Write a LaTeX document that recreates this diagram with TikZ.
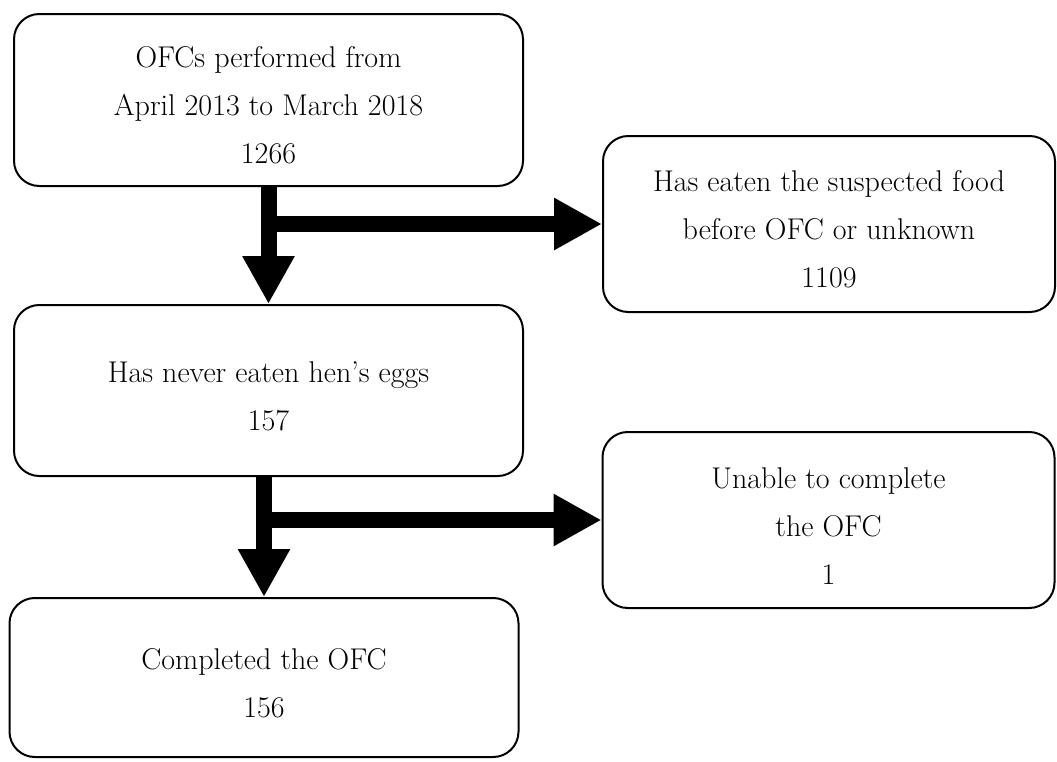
\documentclass[tikz,border=0pt]{standalone}
\usetikzlibrary{arrows.meta}
\newcommand{\firstgap}{\rule{0pt}{24pt}}

\begin{document}
\begin{tikzpicture}[x=0.75pt, y=-0.75pt,
  every node/.style={font=\fontsize{22.5}{36}\selectfont},
  flowbox/.style={draw, line width=1.5pt, rounded corners=19pt, align=center, inner sep=0pt},
  bigarrow/.style={line width=12pt, -{Triangle[length=36pt, width=36.75pt]}}]
  \useasboundingbox (0,0) rectangle (1057,761);
  % main column
  \node[flowbox, minimum width=381.75pt, minimum height=129pt] (ofcAll) at (268.5,100) {\firstgap OFCs performed from\\April 2013 to March 2018\\1266};
  \node[flowbox, minimum width=381.75pt, minimum height=128.25pt] (neverEaten) at (268.5,390.5) {\firstgap Has never eaten hen's eggs\\157};
  \node[flowbox, minimum width=381.75pt, minimum height=119.25pt] (completedOfc) at (264,677.5) {\firstgap Completed the OFC\\156};
  % excluded
  \node[flowbox, minimum width=339pt, minimum height=132pt] (eatenBefore) at (829,224) {\firstgap Has eaten the suspected food\\before OFC or unknown\\1109};
  \node[flowbox, minimum width=339pt, minimum height=132pt] (unableComplete) at (828.5,520) {\firstgap Unable to complete\\the OFC\\1};
  % arrows
  \draw[bigarrow] (ofcAll.south) -- (neverEaten.north);
  \draw[bigarrow] (ofcAll.south |- eatenBefore.west) -- (eatenBefore.west);
  \draw[bigarrow] (completedOfc.north |- neverEaten.south) -- (completedOfc.north);
  \draw[bigarrow] (completedOfc.north |- unableComplete.west) -- (unableComplete.west);
\end{tikzpicture}
\end{document}
